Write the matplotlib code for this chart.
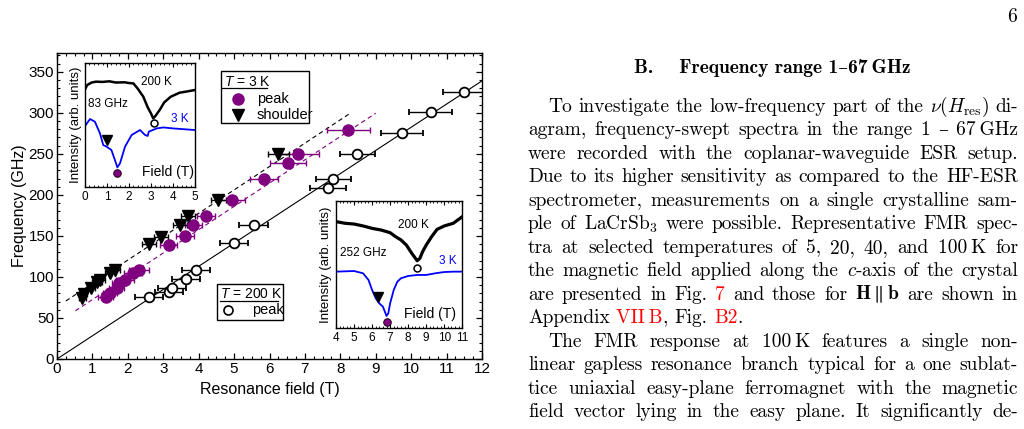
import matplotlib
matplotlib.use('Agg')
import matplotlib.pyplot as plt
from matplotlib.ticker import MultipleLocator
from matplotlib.patches import Rectangle

plt.rcParams['font.family'] = ['Liberation Sans', 'DejaVu Sans']
plt.rcParams['mathtext.fontset'] = 'custom'
plt.rcParams['mathtext.rm'] = 'Liberation Sans'
plt.rcParams['mathtext.it'] = 'Liberation Sans:italic'

PURPLE = '#800080'

# ---- main data: resonance field (T) vs frequency (GHz)
H_200 = [2.59, 3.16, 3.25, 3.64, 3.93, 5.0, 5.55, 7.65, 7.80, 8.48, 9.74, 10.55, 11.49]
f_200 = [75, 82, 87, 98, 109, 142, 163, 209, 220, 250, 276, 301, 325]
dH_200 = [0.4, 0.4, 0.4, 0.4, 0.4, 0.4, 0.4, 0.5, 0.5, 0.5, 0.6, 0.6, 0.6]

H_peak = [1.37, 1.50, 1.68, 1.75, 1.92, 2.15, 2.32, 3.15, 3.62, 3.85, 4.20, 4.95, 5.85, 6.52, 6.80, 8.23]
f_peak = [75, 81, 87, 93, 96, 105, 108, 139, 150, 163, 174, 194, 220, 239, 250, 279]
dH_peak = [0.2, 0.2, 0.2, 0.2, 0.25, 0.25, 0.28, 0.25, 0.25, 0.25, 0.25, 0.35, 0.4, 0.5, 0.6, 0.6]

H_sh = [0.71, 0.75, 0.96, 1.13, 1.21, 1.50, 1.63, 2.60, 2.94, 3.47, 3.71, 4.56, 6.25]
f_sh = [74, 79, 86, 94, 96, 105, 108, 140, 149, 163, 174, 194, 250]
dH_sh = [0.1, 0.1, 0.1, 0.15, 0.15, 0.15, 0.15, 0.2, 0.2, 0.2, 0.2, 0.2, 0.3]

# linear fits: (slope GHz/T, offset GHz, H start, H end)
fit_200 = (28.25, 0.0, 0.0, 12.0)
fit_sh = (28.5, 63.6, 0.25, 8.3)
fit_peak = (28.4, 44.0, 0.52, 9.0)

# ---- inset spectra (arb. units)
sp83_x200 = [0.0, 0.1, 0.3, 0.5, 0.8, 1.1, 1.4, 1.8, 2.0, 2.2, 2.4, 2.65, 2.85, 3.0, 3.1, 3.2, 3.4, 3.6, 3.9, 4.3, 4.7, 5.0]
sp83_y200 = [0.785, 0.82, 0.84, 0.847, 0.845, 0.85, 0.84, 0.842, 0.836, 0.833, 0.79, 0.726, 0.64, 0.591, 0.551, 0.57, 0.62, 0.68, 0.726, 0.758, 0.77, 0.78]
sp83_x3 = [0.0, 0.23, 0.45, 0.68, 0.83, 0.98, 1.2, 1.36, 1.47, 1.59, 1.82, 2.12, 2.5, 2.73, 2.85, 2.9, 3.26, 3.56, 4.0, 5.0]
sp83_y3 = [0.489, 0.546, 0.524, 0.43, 0.336, 0.323, 0.296, 0.215, 0.156, 0.188, 0.323, 0.417, 0.457, 0.417, 0.409, 0.444, 0.47, 0.478, 0.47, 0.457]
sp83_marks = {'peak200': (3.14, 0.516), 'shoulder': (1.01, 0.376), 'peak3': (1.47, 0.108)}

sp252_x200 = [4.0, 4.5, 5.0, 5.5, 6.0, 6.5, 7.0, 7.3, 7.6, 7.9, 8.2, 8.4, 8.5, 8.65, 8.8, 9.0, 9.3, 9.6, 10.0, 10.5, 11.0]
sp252_y200 = [0.838, 0.825, 0.819, 0.804, 0.785, 0.772, 0.751, 0.72, 0.694, 0.654, 0.589, 0.55, 0.531, 0.55, 0.602, 0.654, 0.72, 0.777, 0.804, 0.825, 0.877]
sp252_x3 = [4.0, 5.0, 5.5, 5.8, 6.0, 6.2, 6.4, 6.6, 6.8, 6.9, 7.0, 7.2, 7.4, 7.6, 8.0, 8.5, 9.0, 9.5, 10.0, 10.5, 11.0]
sp252_y3 = [0.445, 0.45, 0.432, 0.38, 0.301, 0.236, 0.196, 0.17, 0.097, 0.118, 0.196, 0.301, 0.366, 0.393, 0.411, 0.419, 0.419, 0.432, 0.442, 0.445, 0.445]
sp252_marks = {'peak200': (8.47, 0.476), 'shoulder': (6.35, 0.243), 'peak3': (6.83, 0.047)}

fig = plt.figure(figsize=(10.24, 4.29), dpi=100)

# ------- main panel
ax = fig.add_axes([57/1024, 1-359/429, 425/1024, 306/429])
for (k, b, h0, h1), st, col in [(fit_200, '-', 'black'), (fit_sh, (0, (4, 3)), 'black'), (fit_peak, (0, (4, 3)), PURPLE)]:
    ax.plot([h0, h1], [b + k*h0, b + k*h1], ls=st, color=col, lw=0.8, zorder=1)

ax.errorbar(H_200, f_200, xerr=dH_200, fmt='o', ms=7, mfc='white', mec='black', mew=1.3,
            ecolor='black', elinewidth=1, capsize=2.5, zorder=4)
ax.errorbar(H_peak, f_peak, xerr=dH_peak, fmt='o', ms=8, mfc=PURPLE, mec=PURPLE,
            ecolor=PURPLE, elinewidth=1, capsize=2.5, zorder=3)
ax.errorbar(H_sh, f_sh, xerr=dH_sh, fmt='v', ms=9, mfc='black', mec='black',
            ecolor='black', elinewidth=1, capsize=2.5, zorder=3)

ax.set_xlim(0, 12)
ax.set_ylim(0, 373)
ax.xaxis.set_major_locator(MultipleLocator(1))
ax.xaxis.set_minor_locator(MultipleLocator(0.25))
ax.yaxis.set_major_locator(MultipleLocator(50))
ax.yaxis.set_minor_locator(MultipleLocator(10))
ax.tick_params(which='both', direction='in', top=True, right=True, labelsize=11, pad=2)
ax.tick_params(which='major', length=4, width=0.9)
ax.tick_params(which='minor', length=2, width=0.8)
for s in ax.spines.values():
    s.set_linewidth(1.0)
ax.set_xlabel('Resonance field (T)', fontsize=11.5)
ax.set_ylabel('Frequency (GHz)', fontsize=11.5)
ax.xaxis.set_label_coords(0.5, -0.075)
ax.yaxis.set_label_coords(-0.07, 0.5)

# legend boxes, drawn by hand so the titles can be underlined
def legend_box(x0, y0, x1, y1, title, tx, ty, ul, entries):
    ax.add_patch(Rectangle((x0, y0), x1-x0, y1-y0, transform=ax.transAxes, fill=False,
                           lw=1.0, ec='black', zorder=6))
    ax.text(tx, ty, title, transform=ax.transAxes, fontsize=10, va='center', zorder=7)
    ax.plot([ul[0], ul[1]], [ul[2], ul[2]], transform=ax.transAxes, color='black', lw=0.9, zorder=7)
    for mx, my, tx2, lab, kw in entries:
        ax.plot([mx], [my], transform=ax.transAxes, zorder=7, clip_on=False, **kw)
        ax.text(tx2, my, lab, transform=ax.transAxes, fontsize=10.5, va='center', zorder=7)

legend_box(0.385, 0.770, 0.594, 0.942, r'$T$ = 3 K', 0.392, 0.905, (0.388, 0.494, 0.884),
           [(0.425, 0.850, 0.47, 'peak', dict(marker='o', ms=8, color=PURPLE, ls='none')),
            (0.425, 0.798, 0.47, 'shoulder', dict(marker='v', ms=9, color='black', ls='none'))])
legend_box(0.377, 0.128, 0.531, 0.245, r'$T$ = 200 K', 0.384, 0.212, (0.384, 0.521, 0.191),
           [(0.403, 0.160, 0.46, 'peak', dict(marker='o', ms=6.5, mfc='white', mec='black', mew=1.2, ls='none'))])

# ------- insets
def inset(rect, xlim, xs200, ys200, xs3, ys3, marks, ghz, txt_pos, lw200, ylab_x):
    a = fig.add_axes(rect)
    a.plot(xs200, ys200, color='black', lw=lw200, solid_joinstyle='round')
    a.plot(xs3, ys3, color='blue', lw=1.3)
    a.plot(*marks['peak200'], 'o', ms=5, mfc='white', mec='black', mew=1.1)
    a.plot(*marks['shoulder'], 'v', ms=6.5, color='black')
    a.plot(*marks['peak3'], 'o', ms=5.5, mfc=PURPLE, mec='black', mew=0.6)
    a.set_xlim(*xlim)
    a.set_ylim(0, 1)
    a.xaxis.set_major_locator(MultipleLocator(1))
    a.xaxis.set_minor_locator(MultipleLocator(0.2))
    a.set_yticks([])
    a.tick_params(which='both', direction='in', top=True, labelsize=8.5, pad=3)
    a.tick_params(which='major', length=3, width=0.8)
    a.tick_params(which='minor', length=1.5, width=0.6)
    for s in a.spines.values():
        s.set_linewidth(1.0)
    a.set_ylabel('Intensity (arb. units)', fontsize=9.5)
    a.yaxis.set_label_coords(ylab_x, 0.5)
    (x1, y1), (x2, y2), (x3, y3), (x4, y4) = txt_pos
    a.text(x1, y1, '200 K', transform=a.transAxes, fontsize=8.5, ha='center', va='center')
    a.text(x2, y2, ghz, transform=a.transAxes, fontsize=8.5, ha='left', va='center')
    a.text(x3, y3, '3 K', transform=a.transAxes, fontsize=8.5, color='blue', ha='center', va='center')
    a.text(x4, y4, 'Field (T)', transform=a.transAxes, fontsize=10, ha='center', va='center')
    return a

inset([85/1024, 1-186.7/429, 110/1024, 124/429], (0, 5), sp83_x200, sp83_y200, sp83_x3, sp83_y3,
      sp83_marks, '83 GHz', [(0.652, 0.847), (0.03, 0.665), (0.864, 0.544), (0.755, 0.121)], 1.8, -0.03)
inset([336/1024, 1-328.3/429, 126.3/1024, 127.3/429], (4, 11), sp252_x200, sp252_y200, sp252_x3, sp252_y3,
      sp252_marks, '252 GHz', [(0.612, 0.811), (0.03, 0.589), (0.889, 0.531), (0.744, 0.112)], 2.3, -0.03)

# ------- text column of the page
BODY = ['cmr10', 'DejaVu Serif']
FS = 14
X0, X1 = 528, 1018
renderer = fig.canvas.get_renderer()

def put_line(tokens, ybase, indent=0, justify=True):
    groups = []
    for tok in tokens:
        segs = [(tok, 'black')] if isinstance(tok, str) else tok
        ts = [fig.text(0, 1 - ybase/429, s, color=c, family=BODY, math_fontfamily='cm',
                       fontsize=FS, va='baseline') for s, c in segs]
        groups.append(ts)
    widths = [[t.get_window_extent(renderer).width for t in g] for g in groups]
    total = sum(sum(w) for w in widths)
    xs = X0 + indent
    gap = (X1 - xs - total) / (len(groups) - 1) if justify else 6.5
    x = xs
    for g, w in zip(groups, widths):
        for t, wi in zip(g, w):
            t.set_x(x / 1024)
            x += wi
        x += gap

fig.text(1012/1024, 1 - 22/429, '6', family=BODY, fontsize=FS, ha='center', va='baseline')
fig.text(772/1024, 1 - 73/429, 'B.    Frequency range 1\u201367\u2009GHz', family=['cmb10', 'DejaVu Serif'],
         fontsize=FS, ha='center', va='baseline')

RED = 'red'
lines = [
    ('To investigate the low-frequency part of the $\\nu(H_\\mathrm{res})$ di-', 20, True),
    ('agram, frequency-swept spectra in the range 1 \u2013 67\u2009GHz', 0, True),
    ('were recorded with the coplanar-waveguide ESR setup.', 0, True),
    ('Due to its higher sensitivity as compared to the HF-ESR', 0, True),
    ('spectrometer, measurements on a single crystalline sam-', 0, True),
    ('ple of LaCrSb$_3$ were possible. Representative FMR spec-', 0, True),
    ('tra at selected temperatures of 5, 20, 40, and 100\u2009K for', 0, True),
    ('the magnetic field applied along the $c$-axis of the crystal', 0, True),
    (['are', 'presented', 'in', 'Fig.', [('7', RED)], 'and', 'those', 'for',
      '$\\mathbf{H}\\parallel\\mathbf{b}$', 'are', 'shown', 'in'], 0, True),
    (['Appendix', [('VII\u2009B', RED), (',', 'black')], 'Fig.', [('B2', RED), ('.', 'black')]], 0, False),
    ('The FMR response at 100\u2009K features a single non-', 20, True),
    ('linear gapless resonance branch typical for a one sublat-', 0, True),
    ('tice uniaxial easy-plane ferromagnet with the magnetic', 0, True),
    ('field vector lying in the easy plane. It significantly de-', 0, True),
]
for i, (ln, ind, just) in enumerate(lines):
    toks = ln.split(' ') if isinstance(ln, str) else ln
    put_line(toks, 112 + 23.46*i, ind, just)

fig.savefig('out.png', dpi=100)
